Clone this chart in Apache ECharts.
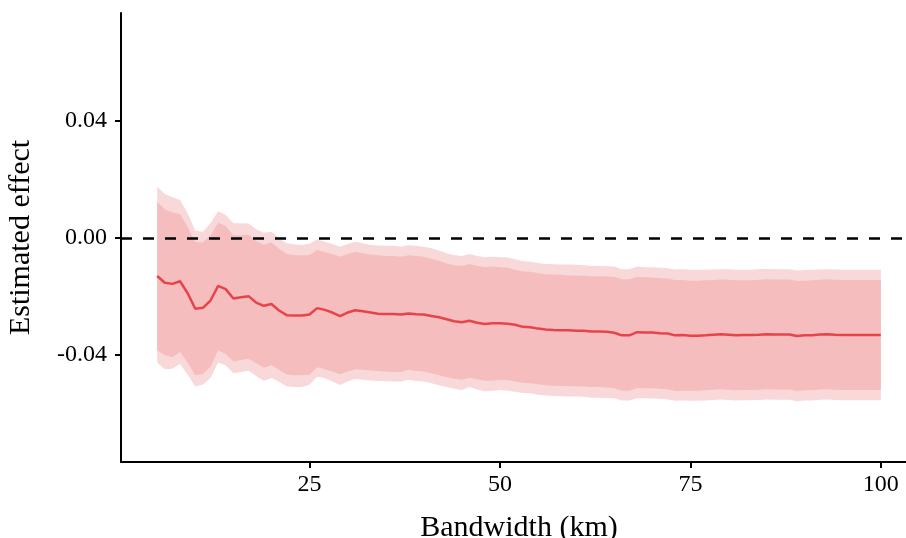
<!DOCTYPE html>
<html>
<head>
<meta charset="utf-8">
<script src="https://cdn.jsdelivr.net/npm/echarts@6/dist/echarts.min.js"></script>
<style>html,body{margin:0;padding:0;background:#fff;overflow:hidden;}#chart{width:906px;height:538px;}</style>
</head>
<body>
<div id="chart"></div>
<script>
const bandwidth = [5,6,7,8,9,10,11,12,13,14,15,16,17,18,19,20,21,22,23,24,25,26,27,28,29,30,31,32,33,34,35,36,37,38,39,40,41,42,43,44,45,46,47,48,49,50,51,52,53,54,55,56,57,58,59,60,61,62,63,64,65,66,67,68,69,70,71,72,73,74,75,76,77,78,79,80,81,82,83,84,85,86,87,88,89,90,91,92,93,94,95,96,97,98,99,100];
const estimate = [-0.0130,-0.0153,-0.0157,-0.0148,-0.0189,-0.0242,-0.0239,-0.0214,-0.0164,-0.0175,-0.0207,-0.0203,-0.0199,-0.0221,-0.0232,-0.0226,-0.0248,-0.0264,-0.0265,-0.0265,
-0.0262,-0.0240,-0.0246,-0.0255,-0.0267,-0.0255,-0.0247,-0.0251,-0.0255,-0.0259,-0.0260,-0.0260,-0.0262,-0.0258,-0.0261,-0.0262,-0.0267,-0.0271,-0.0278,-0.0285,
-0.0288,-0.0283,-0.0290,-0.0294,-0.0292,-0.0292,-0.0293,-0.0297,-0.0304,-0.0305,-0.0310,-0.0313,-0.0315,-0.0316,-0.0316,-0.0317,-0.0317,-0.0320,-0.0320,-0.0321,
-0.0324,-0.0333,-0.0333,-0.0322,-0.0323,-0.0323,-0.0326,-0.0327,-0.0333,-0.0332,-0.0334,-0.0334,-0.0333,-0.0331,-0.0329,-0.0331,-0.0333,-0.0332,-0.0332,-0.0331,
-0.0329,-0.0330,-0.0330,-0.0330,-0.0335,-0.0333,-0.0333,-0.0330,-0.0329,-0.0331,-0.0332,-0.0332,-0.0332,-0.0332,-0.0332,-0.0332];
const upper95 = [0.0175,0.0150,0.0139,0.0130,0.0084,0.0025,0.0021,0.0050,0.0091,0.0078,0.0050,0.0050,0.0049,0.0030,0.0018,0.0021,-0.0002,-0.0018,-0.0022,-0.0024,
-0.0020,-0.0005,-0.0013,-0.0021,-0.0030,-0.0021,-0.0013,-0.0018,-0.0024,-0.0026,-0.0027,-0.0027,-0.0030,-0.0025,-0.0027,-0.0030,-0.0035,-0.0043,-0.0052,-0.0059,
-0.0062,-0.0055,-0.0062,-0.0066,-0.0064,-0.0066,-0.0067,-0.0073,-0.0080,-0.0081,-0.0086,-0.0089,-0.0090,-0.0091,-0.0091,-0.0092,-0.0093,-0.0096,-0.0096,-0.0097,
-0.0098,-0.0107,-0.0107,-0.0098,-0.0100,-0.0100,-0.0102,-0.0104,-0.0108,-0.0107,-0.0109,-0.0109,-0.0109,-0.0108,-0.0107,-0.0107,-0.0109,-0.0109,-0.0109,-0.0107,
-0.0106,-0.0107,-0.0107,-0.0107,-0.0111,-0.0110,-0.0109,-0.0108,-0.0107,-0.0108,-0.0109,-0.0109,-0.0109,-0.0109,-0.0109,-0.0109];
const upper90 = [0.0123,0.0098,0.0087,0.0082,0.0037,-0.0014,-0.0016,0.0009,0.0052,0.0041,0.0009,0.0009,0.0011,-0.0011,-0.0023,-0.0016,-0.0037,-0.0055,-0.0058,-0.0060,
-0.0058,-0.0041,-0.0048,-0.0055,-0.0064,-0.0055,-0.0048,-0.0052,-0.0057,-0.0059,-0.0062,-0.0062,-0.0064,-0.0059,-0.0062,-0.0064,-0.0071,-0.0078,-0.0087,-0.0093,
-0.0096,-0.0089,-0.0096,-0.0100,-0.0098,-0.0100,-0.0101,-0.0109,-0.0115,-0.0116,-0.0121,-0.0124,-0.0125,-0.0126,-0.0128,-0.0128,-0.0129,-0.0131,-0.0131,-0.0132,
-0.0133,-0.0141,-0.0141,-0.0133,-0.0134,-0.0135,-0.0138,-0.0139,-0.0144,-0.0144,-0.0146,-0.0146,-0.0145,-0.0144,-0.0142,-0.0143,-0.0145,-0.0145,-0.0145,-0.0143,
-0.0141,-0.0142,-0.0142,-0.0142,-0.0147,-0.0146,-0.0145,-0.0143,-0.0141,-0.0143,-0.0144,-0.0144,-0.0144,-0.0144,-0.0144,-0.0144];
const lower90 = [-0.0385,-0.0401,-0.0408,-0.0390,-0.0426,-0.0469,-0.0465,-0.0440,-0.0385,-0.0397,-0.0422,-0.0417,-0.0413,-0.0428,-0.0444,-0.0435,-0.0451,-0.0467,-0.0469,-0.0469,
-0.0468,-0.0442,-0.0449,-0.0457,-0.0466,-0.0457,-0.0449,-0.0451,-0.0453,-0.0455,-0.0457,-0.0458,-0.0458,-0.0451,-0.0455,-0.0457,-0.0463,-0.0469,-0.0475,-0.0481,
-0.0485,-0.0478,-0.0483,-0.0488,-0.0488,-0.0485,-0.0486,-0.0491,-0.0495,-0.0497,-0.0500,-0.0504,-0.0505,-0.0506,-0.0507,-0.0507,-0.0508,-0.0510,-0.0510,-0.0511,
-0.0514,-0.0522,-0.0522,-0.0513,-0.0514,-0.0514,-0.0516,-0.0517,-0.0523,-0.0522,-0.0522,-0.0522,-0.0521,-0.0519,-0.0517,-0.0519,-0.0521,-0.0520,-0.0520,-0.0519,
-0.0517,-0.0518,-0.0518,-0.0518,-0.0523,-0.0521,-0.0521,-0.0518,-0.0517,-0.0519,-0.0520,-0.0520,-0.0520,-0.0520,-0.0520,-0.0520];
const lower95 = [-0.0426,-0.0449,-0.0447,-0.0431,-0.0467,-0.0508,-0.0501,-0.0479,-0.0426,-0.0435,-0.0463,-0.0458,-0.0454,-0.0472,-0.0488,-0.0479,-0.0492,-0.0508,-0.0510,-0.0510,
-0.0502,-0.0474,-0.0480,-0.0491,-0.0503,-0.0491,-0.0482,-0.0485,-0.0487,-0.0489,-0.0490,-0.0491,-0.0491,-0.0485,-0.0489,-0.0491,-0.0497,-0.0504,-0.0510,-0.0516,
-0.0520,-0.0510,-0.0518,-0.0524,-0.0522,-0.0520,-0.0522,-0.0526,-0.0530,-0.0531,-0.0536,-0.0539,-0.0540,-0.0541,-0.0542,-0.0542,-0.0543,-0.0546,-0.0546,-0.0547,
-0.0548,-0.0556,-0.0556,-0.0548,-0.0548,-0.0549,-0.0550,-0.0552,-0.0557,-0.0556,-0.0557,-0.0557,-0.0556,-0.0554,-0.0552,-0.0554,-0.0556,-0.0555,-0.0555,-0.0554,
-0.0552,-0.0553,-0.0553,-0.0553,-0.0558,-0.0556,-0.0556,-0.0553,-0.0552,-0.0554,-0.0555,-0.0555,-0.0555,-0.0555,-0.0555,-0.0555];
const xTicks = [25, 50, 75, 100];
const yTicks = [-0.04, 0, 0.04];
const referenceLine = 0;

const FONT = 'Liberation Serif';
const lightFill = '#F9D8D9';
const darkFill = '#F5BDBD';
const lineColor = '#E8434A';

function bandSeries(upper, lower, fill) {
  return {
    type: 'custom',
    silent: true,
    clip: true,
    data: [[bandwidth[0], upper[0]]],
    renderItem: function (params, api) {
      const pts = [];
      for (let i = 0; i < bandwidth.length; i++) pts.push(api.coord([bandwidth[i], upper[i]]));
      for (let i = bandwidth.length - 1; i >= 0; i--) pts.push(api.coord([bandwidth[i], lower[i]]));
      return { type: 'polygon', shape: { points: pts }, style: { fill: fill, stroke: null } };
    }
  };
}

const chart = echarts.init(document.getElementById('chart'), null, { renderer: 'canvas' });
chart.setOption({
  animation: false,
  backgroundColor: '#ffffff',
  grid: { left: 121, top: 13, width: 796, height: 449, containLabel: false, outerBoundsMode: 'none' },
  xAxis: {
    type: 'value',
    min: 0.25,
    max: 104.75,
    name: 'Bandwidth (km)',
    nameLocation: 'middle',
    nameGap: 51,
    nameTextStyle: { fontFamily: FONT, fontSize: 30, color: '#000' },
    axisLine: { show: true, onZero: false, lineStyle: { color: '#000', width: 2 } },
    axisTick: { show: true, length: 6, lineStyle: { color: '#000', width: 2 }, customValues: xTicks },
    axisLabel: { fontFamily: FONT, fontSize: 24, color: '#000', margin: 11, customValues: xTicks },
    splitLine: { show: false }
  },
  yAxis: {
    type: 'value',
    min: -0.0766,
    max: 0.0769,
    name: 'Estimated effect',
    nameLocation: 'middle',
    nameRotate: 90,
    nameGap: 85,
    nameTextStyle: { fontFamily: FONT, fontSize: 30, color: '#000' },
    axisLine: { show: true, onZero: false, lineStyle: { color: '#000', width: 2 } },
    axisTick: { show: true, length: 6, lineStyle: { color: '#000', width: 2 }, customValues: yTicks },
    axisLabel: { fontFamily: FONT, fontSize: 24, color: '#000', margin: 14, customValues: yTicks,
      formatter: function (v) { return v.toFixed(2); } },
    splitLine: { show: false }
  },
  series: [
    bandSeries(upper95, lower95, lightFill),
    bandSeries(upper90, lower90, darkFill),
    {
      type: 'line',
      data: bandwidth.map((b, i) => [b, estimate[i]]),
      showSymbol: false,
      symbol: 'none',
      lineStyle: { color: lineColor, width: 2.5 },
      z: 3,
      markLine: {
        silent: true,
        symbol: ['none', 'none'],
        label: { show: false },
        lineStyle: { color: '#000', width: 2.5, type: [11, 11] },
        data: [{ yAxis: referenceLine }]
      }
    }
  ]
});
</script>
</body>
</html>
